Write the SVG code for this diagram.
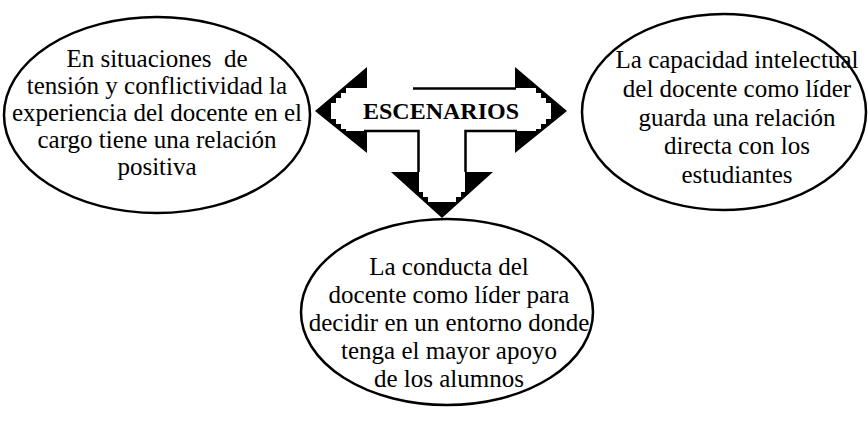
<svg xmlns="http://www.w3.org/2000/svg" width="868" height="426" viewBox="0 0 868 426">
<style>
.bg{fill:#fff}
.oval{fill:none;stroke:#000;stroke-width:2.5}
.t{font-family:"Liberation Serif","Times New Roman",serif;font-size:25px;fill:#000;text-anchor:middle}
.title{font-family:"Liberation Serif","Times New Roman",serif;font-size:24px;font-weight:bold;fill:#000;text-anchor:middle}
.blk{fill:#000}
.wht{fill:#fff}
.ln{stroke:#000;stroke-width:2.5;fill:none}
</style>
<rect class="bg" x="0" y="0" width="868" height="426"/>
<g id="connectors">
  <g id="arrow-left">
    <polygon class="blk" points="367,67 315,111 367,153"/>
    <polygon class="wht" points="368,88 346,88 346,93 341,93 341,98 336,98 336,103 331,103 331,119 336,119 336,124 341,124 341,129 346,129 346,131 368,131"/>
  </g>
  <g id="arrow-right">
    <polygon class="blk" points="515,67 567,111 515,153"/>
    <polygon class="wht" points="514,88 536,88 536,93 541,93 541,98 546,98 546,103 551,103 551,119 546,119 546,124 541,124 541,129 536,129 536,131 514,131"/>
  </g>
  <g id="arrow-down">
    <polygon class="blk" points="391,172 442,218 493,172"/>
    <polygon class="wht" points="419,171 465,171 465,192 461,192 461,197 456,197 456,202 428,202 428,197 423,197 423,192 419,192"/>
  </g>
  <line class="ln" x1="413" y1="88.5" x2="516" y2="88.5"/>
  <polyline class="ln" points="364,131 418.5,131 418.5,172"/>
  <polyline class="ln" points="517,131 465.5,131 465.5,172"/>
</g>
<g id="center-label">
  <text class="title" x="441" y="118.5">ESCENARIOS</text>
</g>
<g id="node-left">
  <ellipse class="oval" cx="157" cy="115" rx="153" ry="98"/>
  <text class="t" x="157" y="67" xml:space="preserve">En situaciones  de</text>
  <text class="t" x="157" y="94">tensión y conflictividad la</text>
  <text class="t" x="157" y="121">experiencia del docente en el</text>
  <text class="t" x="157" y="148">cargo tiene una relación</text>
  <text class="t" x="157" y="175">positiva</text>
</g>
<g id="node-right">
  <ellipse class="oval" cx="724" cy="112" rx="142" ry="98"/>
  <text class="t" x="737" y="68">La capacidad intelectual</text>
  <text class="t" x="737" y="97">del docente como líder</text>
  <text class="t" x="737" y="126">guarda una relación</text>
  <text class="t" x="737" y="154">directa con los</text>
  <text class="t" x="737" y="183">estudiantes</text>
</g>
<g id="node-bottom">
  <ellipse class="oval" cx="447" cy="312" rx="146" ry="93"/>
  <text class="t" x="449" y="275">La conducta del</text>
  <text class="t" x="449" y="303">docente como líder para</text>
  <text class="t" x="449" y="331">decidir en un entorno donde</text>
  <text class="t" x="449" y="359">tenga el mayor apoyo</text>
  <text class="t" x="449" y="387">de los alumnos</text>
</g>
</svg>
